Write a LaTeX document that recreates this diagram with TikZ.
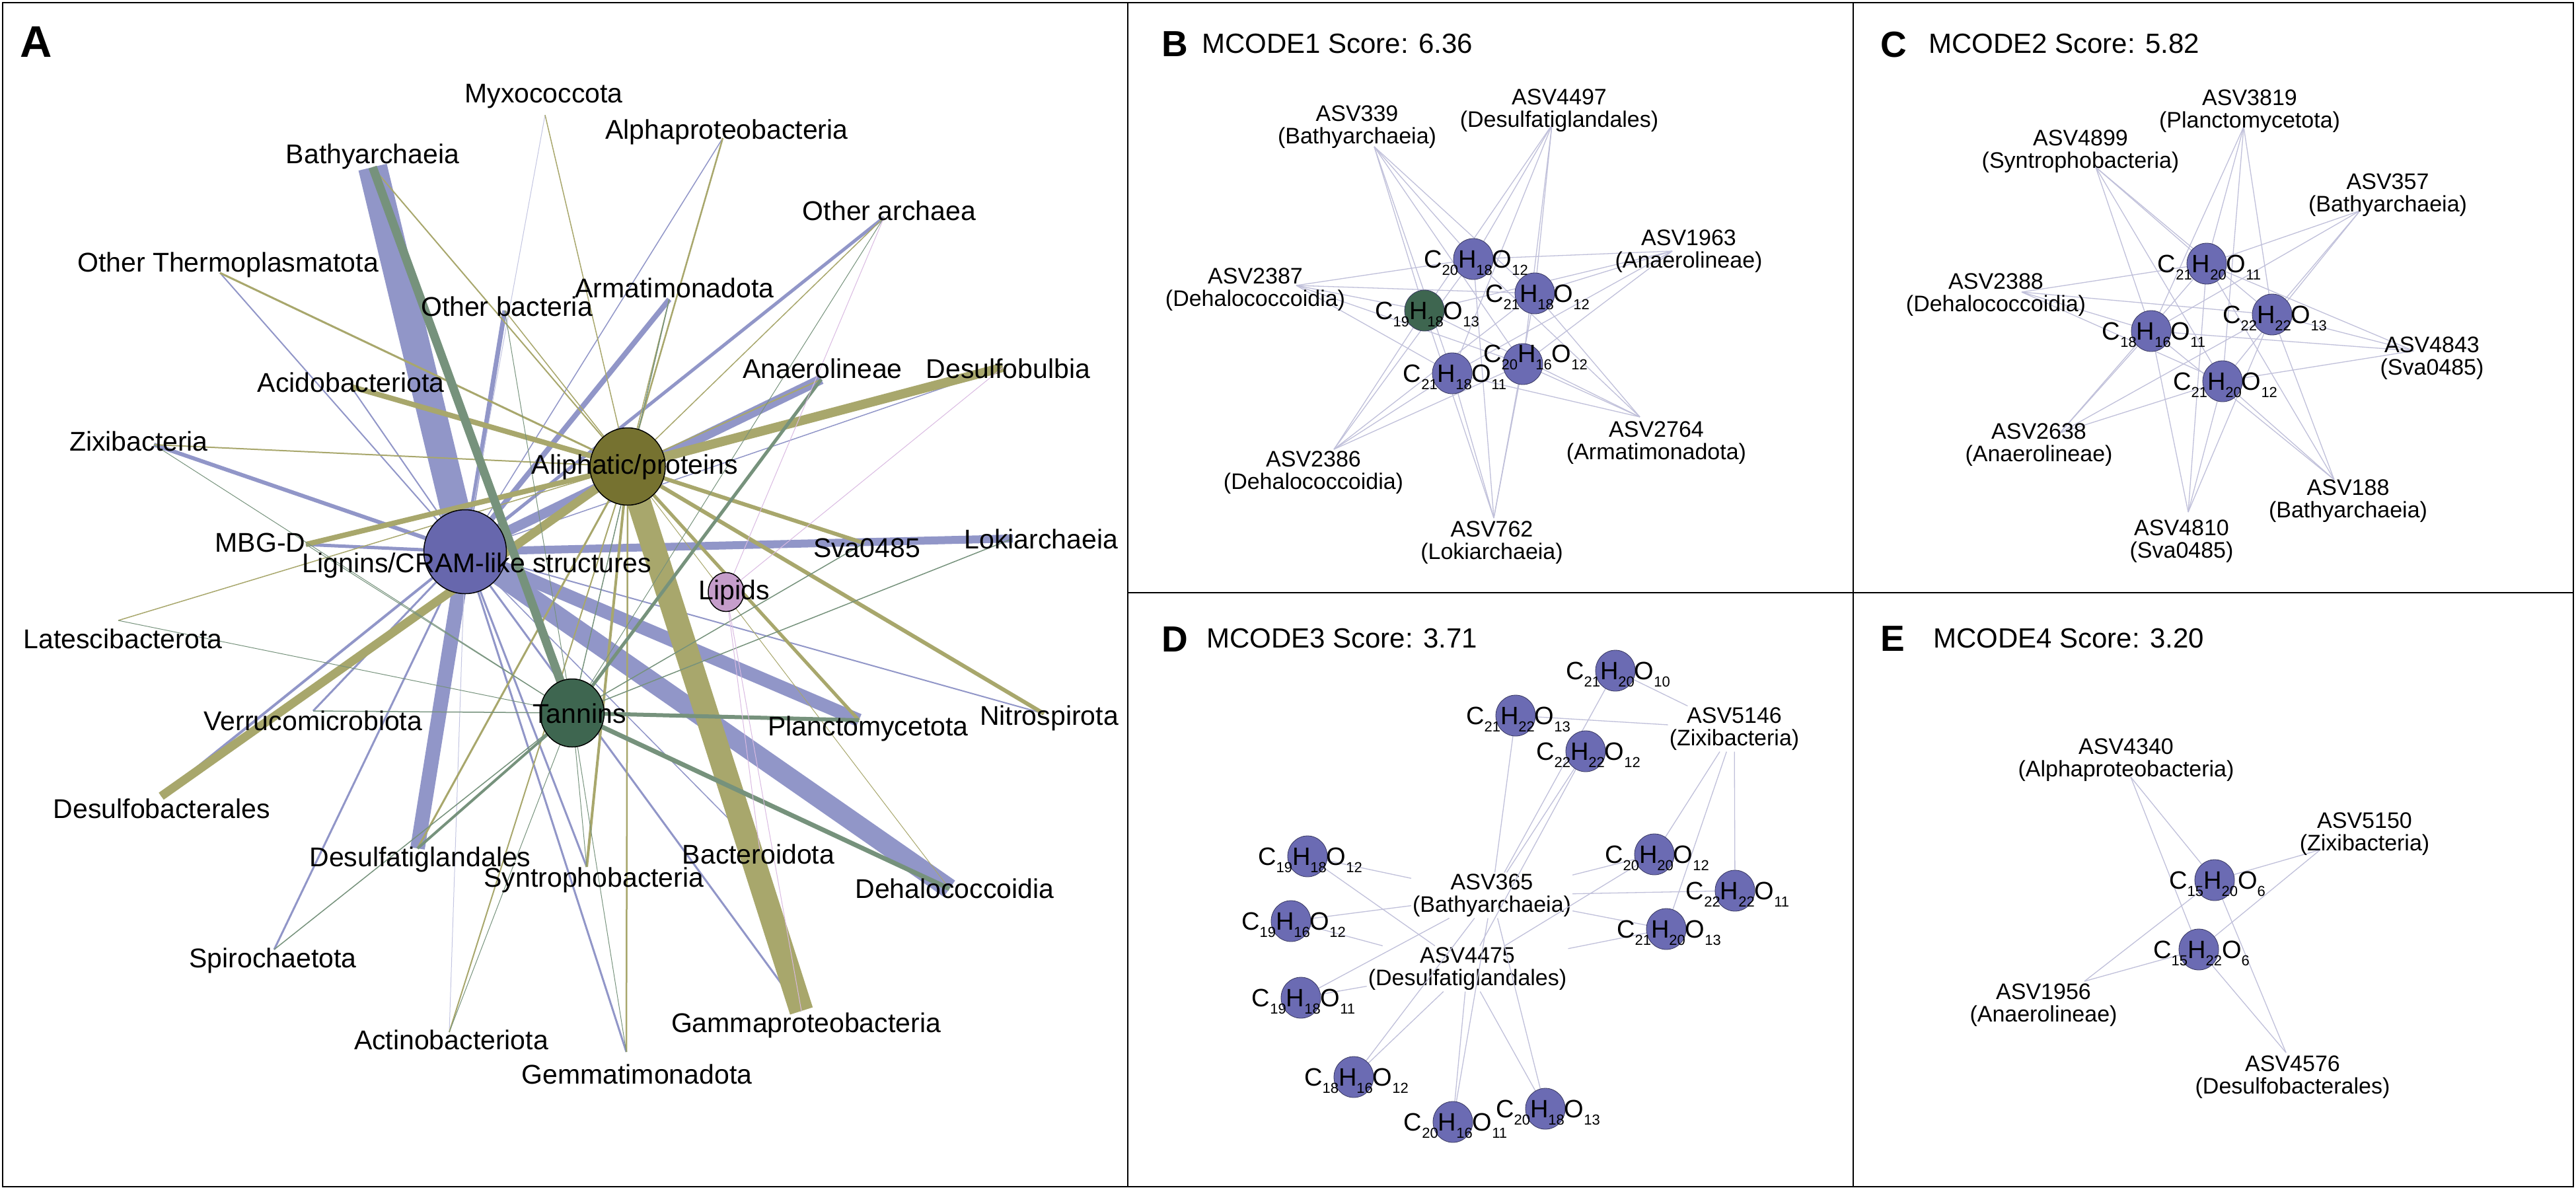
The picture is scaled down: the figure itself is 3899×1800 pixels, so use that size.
\documentclass[tikz,border=0pt]{standalone}
\usepackage{fontspec}
\setmainfont{Liberation Sans}
\usetikzlibrary{shapes.geometric}
\definecolor{cL}{RGB}{145,150,200}
\definecolor{cLf}{RGB}{103,103,173}
\definecolor{cP}{RGB}{168,167,108}
\definecolor{cPf}{RGB}{118,114,48}
\definecolor{cT}{RGB}{118,146,124}
\definecolor{cTf}{RGB}{62,102,80}
\definecolor{cLi}{RGB}{218,186,226}
\definecolor{cLif}{RGB}{197,157,202}
\definecolor{cE}{RGB}{192,192,218}
\definecolor{cM}{RGB}{107,107,179}
\definecolor{cMd}{RGB}{55,55,95}
\newcommand{\sbx}[1]{\raisebox{-11pt}[0pt][0pt]{\fontsize{22}{22}\selectfont #1}}
\newcommand{\fm}[3]{C\sbx{#1}H\sbx{#2}O\sbx{#3}}
\begin{document}
\begin{tikzpicture}[x=1pt,y=-1pt,
  lab/.style={font=\fontsize{41}{41}\selectfont, inner sep=0pt, anchor=base},
  hub/.style={ellipse, draw=black, line width=1.5pt, inner sep=0pt},
  mol/.style={ellipse, minimum width=60pt, minimum height=62pt, inner sep=0pt, fill=cM, draw=cMd, line width=0.8pt},
  fml/.style={font=\fontsize{38}{38}\selectfont, inner sep=0pt, anchor=base, yshift=-13pt, xshift=4pt},
  asv/.style={font=\fontsize{34}{34}\selectfont, align=center, inner sep=2pt},
  pe/.style={draw=cE, line width=1.3pt},
  ttl/.style={font=\fontsize{42}{42}\selectfont, inner sep=0pt, anchor=base west},
  plet/.style={font=\fontsize{55}{55}\selectfont\bfseries, inner sep=0pt, anchor=base west},
  frame/.style={draw=black, line width=2.5pt}
]
\useasboundingbox (0,0) rectangle (3899,1800);
\fill[white] (0,0) rectangle (3899,1800);

% ---------------- Panel A ----------------
\coordinate (L) at (704,835);
\coordinate (P) at (950,706);
\coordinate (T) at (866,1079);
\coordinate (Li) at (1099,896);

\coordinate (Myxo) at (825,174);
\coordinate (Alpha) at (1094,209);
\coordinate (Bathy) at (564,253);
\coordinate (OArch) at (1338,329);
\coordinate (OTherm) at (333,413);
\coordinate (Armat) at (1013,453);
\coordinate (OBact) at (764,470);
\coordinate (Anaero) at (1243,574);
\coordinate (Dbulb) at (1518,556);
\coordinate (Acido) at (531,585);
\coordinate (Zixi) at (233,673);
\coordinate (MBGD) at (463,824);
\coordinate (Sva) at (1308,822);
\coordinate (Loki) at (1533,815);
\coordinate (Lates) at (179,939);
\coordinate (Verru) at (474,1076);
\coordinate (Plancto) at (1300,1090);
\coordinate (Nitro) at (1580,1080);
\coordinate (Dbact) at (244,1205);
\coordinate (Dglan) at (632,1284);
\coordinate (Bacter) at (1150,1287);
\coordinate (Syntro) at (888,1312);
\coordinate (Dehalo) at (1437,1345);
\coordinate (Spiro) at (415,1437);
\coordinate (Gamma) at (1213,1530);
\coordinate (Actino) at (680,1562);
\coordinate (Gemma) at (948,1592);

% Lignins edges
\foreach \t/\w in {Bathy/44, OTherm/2, Alpha/1.5, OArch/5, Armat/8, OBact/7, Anaero/15, Dbulb/1.5, Acido/2, Zixi/6, MBGD/5, Verru/3, Dbact/4, Dglan/22, Spiro/3, Syntro/3, Gemma/3, Bacter/1.5, Dehalo/30, Gamma/3, Plancto/20, Loki/12, Nitro/2}
  \draw[draw=cL, line width=\w pt] (L) -- (\t);
\foreach \t in {Myxo, Actino}
  \draw[draw=cL!55, line width=1pt] (L) -- (\t);
% Aliphatic edges
\foreach \t/\w in {Bathy/2, OTherm/3, Myxo/1.5, Alpha/2.5, OArch/1.5, Anaero/2, Dbulb/14, Acido/8, Zixi/2, MBGD/8, Lates/1.5, Dbact/13, Dglan/3, Actino/2, Syntro/4, Gemma/2.5, Dehalo/1, Gamma/36, Plancto/5, Sva/6, Nitro/6, OBact/1.5, Armat/1.5}
  \draw[draw=cP, line width=\w pt] (P) -- (\t);
% Tannins edges
\foreach \t/\w in {Bathy/13, OArch/1, Armat/1.5, Anaero/5, Zixi/1, MBGD/1, Lates/1, Verru/1.5, Dglan/4, Spiro/1.5, Actino/1, Syntro/1, Gemma/1, Dehalo/7, Plancto/6, Sva/1.5, Loki/1.5, OBact/1}
  \draw[draw=cT, line width=\w pt] (T) -- (\t);
% Lipids edges
\foreach \t in {OArch, Dbulb, Bacter, Gamma}
  \draw[draw=cLi, line width=1pt] (Li) -- (\t);

% hubs
\node[hub, fill=cLf, minimum width=125pt, minimum height=127pt] (Lnode) at (L) {};
\node[hub, fill=cPf, minimum width=114pt, minimum height=117pt] (Pnode) at (P) {};
\node[hub, fill=cTf, minimum width=97pt, minimum height=103pt] (Tnode) at (T) {};
\node[hub, fill=cLif, minimum width=54pt, minimum height=59pt] (Linode) at (Li) {};

% labels
\node[lab] (lMyxo) at (823,155) {Myxococcota};
\node[lab] (lAlpha) at (1100,210) {Alphaproteobacteria};
\node[lab] (lBathy) at (564,247) {Bathyarchaeia};
\node[lab] (lOArch) at (1346,333) {Other archaea};
\node[lab] (lOTherm) at (345,411) {Other Thermoplasmatota};
\node[lab] (lArmat) at (1021,450) {Armatimonadota};
\node[lab] (lOBact) at (767,478) {Other bacteria};
\node[lab] (lAnaero) at (1245,572) {Anaerolineae};
\node[lab] (lDbulb) at (1526,572) {Desulfobulbia};
\node[lab] (lAcido) at (531,593) {Acidobacteriota};
\node[lab] (lZixi) at (210,682) {Zixibacteria};
\node[lab] (lP) at (961,717) {Aliphatic/proteins};
\node[lab] (lMBGD) at (394,835) {MBG-D};
\node[lab] (lL) at (722,866) {Lignins/CRAM-like structures};
\node[lab] (lSva) at (1312,843) {Sva0485};
\node[lab] (lLoki) at (1576,830) {Lokiarchaeia};
\node[lab] (lLi) at (1111,907) {Lipids};
\node[lab] (lLates) at (186,981) {Latescibacterota};
\node[lab] (lT) at (877,1094) {Tannins};
\node[lab] (lVerru) at (474,1105) {Verrucomicrobiota};
\node[lab] (lPlancto) at (1314,1113) {Planctomycetota};
\node[lab] (lNitro) at (1588,1097) {Nitrospirota};
\node[lab] (lDbact) at (245,1238) {Desulfobacterales};
\node[lab] (lDglan) at (636,1311) {Desulfatiglandales};
\node[lab] (lBacter) at (1148,1307) {Bacteroidota};
\node[lab] (lSyntro) at (899,1342) {Syntrophobacteria};
\node[lab] (lDehalo) at (1445,1359) {Dehalococcoidia};
\node[lab] (lSpiro) at (413,1464) {Spirochaetota};
\node[lab] (lGamma) at (1220,1562) {Gammaproteobacteria};
\node[lab] (lActino) at (683,1588) {Actinobacteriota};
\node[lab] (lGemma) at (964,1640) {Gemmatimonadota};

\node[font=\fontsize{67}{67}\selectfont\bfseries, inner sep=0pt, anchor=base west] (letA) at (30,86) {A};

% ---------------- Panel B ----------------
\coordinate (b1) at (2230,392);
\coordinate (b2) at (2323,444);
\coordinate (b3) at (2156,470);
\coordinate (b4) at (2305,551);
\coordinate (b5) at (2198,565);
\coordinate (ba) at (2080,222);
\coordinate (bb) at (2349,189);
\coordinate (bc) at (2531,380);
\coordinate (bd) at (1962,432);
\coordinate (be) at (2019,680);
\coordinate (bf) at (2261,784);
\coordinate (bg) at (2482,631);
\foreach \a in {ba,bb,bc,bd,be,bf,bg}
  \foreach \m in {b1,b2,b3,b4,b5}
    \draw[pe] (\a) -- (\m);
\node[mol] (mb1) at (b1) {};
\node[mol] (mb2) at (b2) {};
\node[mol, fill=cTf] (mb3) at (b3) {};
\node[mol] (mb4) at (b4) {};
\node[mol] (mb5) at (b5) {};
\node[fml] at (b1) {\fm{20}{18}{12}};
\node[fml] at (b2) {\fm{21}{18}{12}};
\node[fml] at (b3) {\fm{19}{18}{13}};
\node[fml] at (2320,535) {\fm{20}{16}{12}};
\node[fml] at (b5) {\fm{21}{18}{11}};
\node[asv] (lba) at (2054,192) {ASV339\\(Bathyarchaeia)};
\node[asv] (lbb) at (2360,167) {ASV4497\\(Desulfatiglandales)};
\node[asv] (lbc) at (2556,380) {ASV1963\\(Anaerolineae)};
\node[asv] (lbd) at (1900,438) {ASV2387\\(Dehalococcoidia)};
\node[asv] (lbe) at (1988,715) {ASV2386\\(Dehalococcoidia)};
\node[asv] (lbf) at (2258,821) {ASV762\\(Lokiarchaeia)};
\node[asv] (lbg) at (2507,670) {ASV2764\\(Armatimonadota)};
\node[plet] (letB) at (1758,85) {B};
\node[ttl] (tB) at (1819,80) {MCODE1 Score: 6.36};

% ---------------- Panel C ----------------
\coordinate (c1) at (3340,399);
\coordinate (c2) at (3439,476);
\coordinate (c3) at (3256,501);
\coordinate (c4) at (3364,577);
\coordinate (ca) at (3396,192);
\coordinate (cb) at (3172,253);
\coordinate (cc) at (3572,319);
\coordinate (cd) at (3060,442);
\coordinate (ce) at (3653,531);
\coordinate (cf) at (3118,655);
\coordinate (cg) at (3533,726);
\coordinate (ch) at (3312,775);
\foreach \a in {ca,cb,cc,cd,ce,cf,cg,ch}
  \foreach \m in {c1,c2,c3,c4}
    \draw[pe] (\a) -- (\m);
\node[mol] (mc1) at (c1) {};
\node[mol] (mc2) at (c2) {};
\node[mol] (mc3) at (c3) {};
\node[mol] (mc4) at (c4) {};
\node[fml] at (c1) {\fm{21}{20}{11}};
\node[fml] at (c2) {\fm{22}{22}{13}};
\node[fml] at (c3) {\fm{18}{16}{11}};
\node[fml] at (c4) {\fm{21}{20}{12}};
\node[asv] (lca) at (3405,168) {ASV3819\\(Planctomycetota)};
\node[asv] (lcb) at (3149,229) {ASV4899\\(Syntrophobacteria)};
\node[asv] (lcc) at (3614,295) {ASV357\\(Bathyarchaeia)};
\node[asv] (lcd) at (3021,446) {ASV2388\\(Dehalococcoidia)};
\node[asv] (lce) at (3681,542) {ASV4843\\(Sva0485)};
\node[asv] (lcf) at (3086,673) {ASV2638\\(Anaerolineae)};
\node[asv] (lcg) at (3554,758) {ASV188\\(Bathyarchaeia)};
\node[asv] (lch) at (3302,819) {ASV4810\\(Sva0485)};
\node[plet] (letC) at (2846,86) {C};
\node[ttl] (tC) at (2919,80) {MCODE2 Score: 5.82};

% ---------------- Panel D ----------------
\coordinate (d1) at (2445,1015);
\coordinate (d2) at (2294,1083);
\coordinate (d3) at (2400,1137);
\coordinate (d4) at (1979,1296);
\coordinate (d5) at (2504,1293);
\coordinate (d6) at (2626,1348);
\coordinate (d7) at (1954,1394);
\coordinate (d8) at (2522,1406);
\coordinate (d9) at (1969,1510);
\coordinate (d10) at (2049,1630);
\coordinate (d11) at (2199,1698);
\coordinate (d12) at (2339,1678);
\node[asv] (da) at (2625,1103) {ASV5146\\(Zixibacteria)};
\node[asv] (db) at (2258,1355) {ASV365\\(Bathyarchaeia)};
\node[asv] (dc) at (2221,1466) {ASV4475\\(Desulfatiglandales)};
\foreach \m in {d1,d2,d5,d6,d8}
  \draw[pe] (da) -- (\m);
\foreach \m in {d1,d2,d3,d4,d5,d6,d7,d8,d9,d10,d11,d12}
  \draw[pe] (db) -- (\m);
\foreach \m in {d3,d4,d5,d7,d8,d9,d10,d11,d12}
  \draw[pe] (dc) -- (\m);
\foreach \m in {d1,d2,d3,d4,d5,d6,d7,d8,d9,d10,d11,d12}
  \node[mol] (m\m) at (\m) {};
\node[fml] at (d1) {\fm{21}{20}{10}};
\node[fml] at (d2) {\fm{21}{22}{13}};
\node[fml] at (d3) {\fm{22}{22}{12}};
\node[fml] at (d4) {\fm{19}{18}{12}};
\node[fml] at (d5) {\fm{20}{20}{12}};
\node[fml] at (d6) {\fm{22}{22}{11}};
\node[fml] at (d7) {\fm{19}{16}{12}};
\node[fml] at (d8) {\fm{21}{20}{13}};
\node[fml] at (d9) {\fm{19}{18}{11}};
\node[fml] at (d10) {\fm{18}{16}{12}};
\node[fml] at (d11) {\fm{20}{16}{11}};
\node[fml] at (d12) {\fm{20}{18}{13}};
\node[plet] (letD) at (1758,986) {D};
\node[ttl] (tD) at (1826,980) {MCODE3 Score: 3.71};

% ---------------- Panel E ----------------
\coordinate (e1) at (3352,1332);
\coordinate (e2) at (3328,1437);
\coordinate (ea) at (3225,1176);
\coordinate (eb) at (3512,1286);
\coordinate (ec) at (3155,1485);
\coordinate (ed) at (3460,1593);
\foreach \a in {ea,eb,ec,ed}
  \foreach \m in {e1,e2}
    \draw[pe] (\a) -- (\m);
\node[mol] (me1) at (e1) {};
\node[mol] (me2) at (e2) {};
\node[fml] at (e1) {\fm{15}{20}{6}};
\node[fml] at (e2) {\fm{15}{22}{6}};
\node[asv] (lea) at (3218,1150) {ASV4340\\(Alphaproteobacteria)};
\node[asv] (leb) at (3579,1262) {ASV5150\\(Zixibacteria)};
\node[asv] (lec) at (3093,1521) {ASV1956\\(Anaerolineae)};
\node[asv] (led) at (3470,1630) {ASV4576\\(Desulfobacterales)};
\node[plet] (letE) at (2846,985) {E};
\node[ttl] (tE) at (2926,980) {MCODE4 Score: 3.20};

% ---------------- frames ----------------
\draw[frame] (4,4) rectangle (3895,1796);
\draw[frame] (1707,4) -- (1707,1796);
\draw[frame] (2805,4) -- (2805,1796);
\draw[frame] (1707,897) -- (3895,897);
\end{tikzpicture}
\end{document}
